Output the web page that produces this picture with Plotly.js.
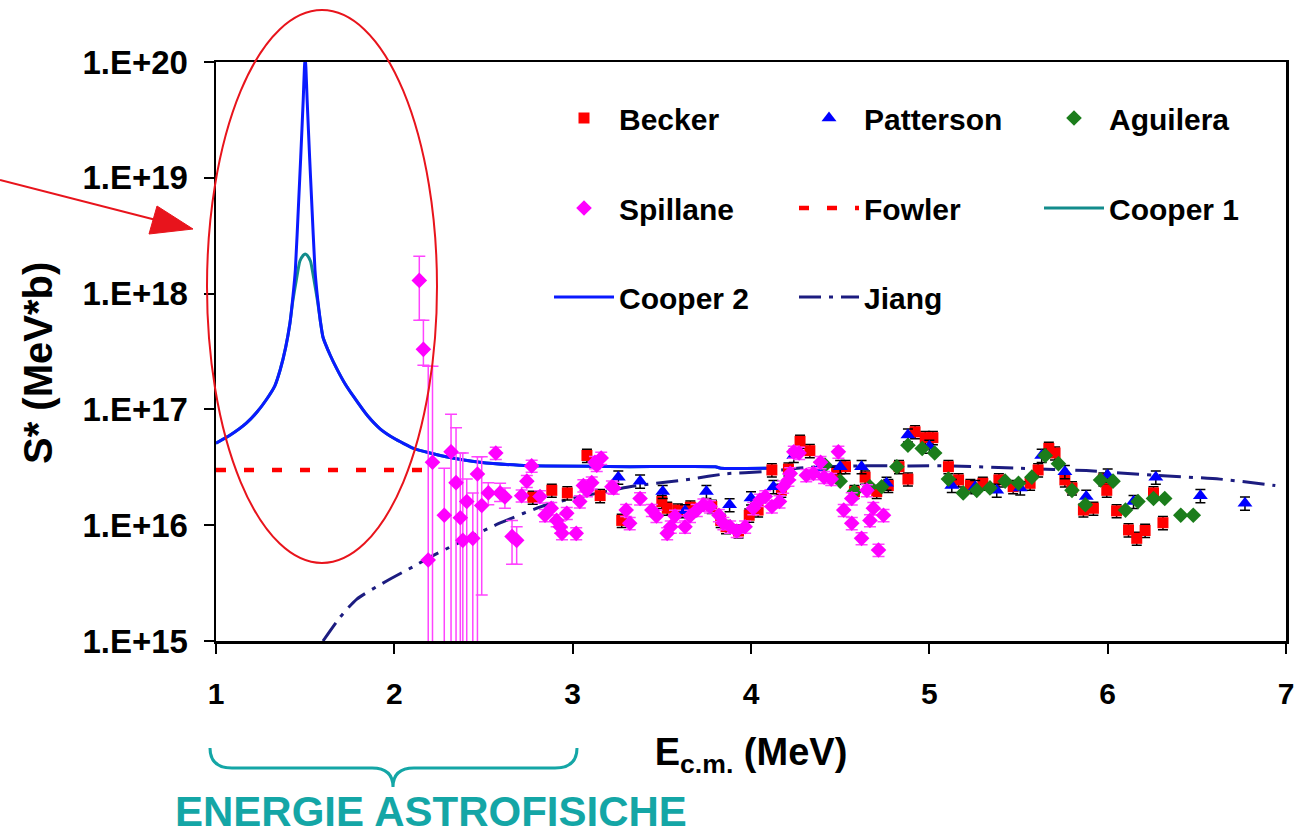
<!DOCTYPE html>
<html><head><meta charset="utf-8">
<script src="https://cdn.plot.ly/plotly-3.0.1.min.js"></script>
<style>html,body{margin:0;padding:0;background:#fff}#chart{width:1305px;height:838px}</style>
</head><body><div id="chart"></div>
<script>
// ---------------- DATA ----------------
const beckerX = [2.776,2.883,2.97,3.08,3.154,3.275,3.5,3.53,3.59,3.66,3.78,3.83,3.86,3.93,3.99,4.04,4.117,4.17,4.21,4.275,4.33,4.48,4.53,4.58,4.64,4.705,4.77,4.83,4.88,4.92,4.977,5.02,5.107,5.164,5.23,5.30,5.39,5.47,5.565,5.61,5.67,5.705,5.76,5.8,5.864,5.92,5.976,5.995,6.05,6.117,6.163,6.21,6.257,6.31];
const beckerY = [1.74e16,2.0e16,1.9e16,4.0e16,1.8e16,1.1e16,1.6e16,1.4e16,1.35e16,1.43e16,1.45e16,1.1e16,9.7e15,8.9e15,1.22e16,1.35e16,3.0e16,2.0e16,3.05e16,5.3e16,4.4e16,2.8e16,3.2e16,1.95e16,2.6e16,1.95e16,2.2e16,3.2e16,2.5e16,6.4e16,5.7e16,5.7e16,3.2e16,2.46e16,2.2e16,2.3e16,2.46e16,2.15e16,2.3e16,3.0e16,4.6e16,4.2e16,2.46e16,2.1e16,1.35e16,1.4e16,2.5e16,2.0e16,1.33e16,9.1e15,7.7e15,9.0e15,1.9e16,1.05e16];

const pattersonX = [3.256,3.378,3.505,3.63,3.75,3.88,4.0,4.126,4.24,4.38,4.5,4.62,4.76,4.88,5.0,5.126,5.257,5.378,5.51,5.63,5.76,5.88,6.0,6.145,6.27,6.52,6.77];
const pattersonY = [2.6e16,2.4e16,1.95e16,1.33e16,1.95e16,1.5e16,1.72e16,2.15e16,4.0e16,3.1e16,3.2e16,3.2e16,2.3e16,6.0e16,4.8e16,2.2e16,2.15e16,2.0e16,2.1e16,4.0e16,2.9e16,1.77e16,2.7e16,1.6e16,2.6e16,1.8e16,1.55e16];

const aguileraX = [4.415,4.5,4.58,4.667,4.733,4.818,4.88,4.96,5.03,5.107,5.19,5.266,5.34,5.425,5.5,5.575,5.65,5.724,5.8,5.875,5.96,6.03,6.10,6.17,6.257,6.32,6.41,6.48];
const aguileraY = [3.3e16,2.4e16,1.95e16,2.15e16,2.15e16,3.2e16,4.9e16,4.6e16,4.2e16,2.5e16,1.9e16,2.0e16,2.1e16,2.4e16,2.3e16,2.6e16,4.0e16,3.4e16,2.0e16,1.5e16,2.46e16,2.4e16,1.35e16,1.6e16,1.7e16,1.7e16,1.22e16,1.22e16];

// Spillane, low-energy points with individual error limits
const spillaneX  = [2.14,2.163,2.19,2.214,2.28,2.318,2.346,2.37,2.384,2.406,2.44,2.466,2.49,2.527,2.569,2.593,2.62,2.66,2.686];
const spillaneY  = [1.3e18,3.3e17,5.0e15,3.5e16,1.22e16,4.3e16,2.33e16,1.16e16,7.4e15,1.6e16,7.7e15,2.77e16,1.48e16,1.9e16,4.2e16,1.9e16,1.75e16,8.0e15,7.4e15];
const spillaneHi = [2.1e18,5.9e17,2.36e17,2.36e17,3.1e16,9.1e16,6.95e16,4.2e16,4.2e16,2.5e16,1.9e16,3.9e16,3.9e16,2.33e16,4.7e16,2.3e16,2.1e16,1.1e16,9.7e15];
const spillaneLo = [5.9e17,2.4e17,1e13,1e13,1e13,1e13,1e13,1e13,1e13,1e13,1e13,1e13,2.5e15,1.5e16,3.7e16,1.6e16,1.4e16,4.6e15,4.6e15];
// Spillane, remaining points
const spillane2X = [2.714,2.743,2.77,2.817,2.845,2.88,2.91,2.93,2.94,2.967,3.02,3.04,3.06,3.08,3.107,3.125,3.135,3.16,3.22,3.23,3.3,3.32,3.378,3.444,3.47,3.53,3.55,3.574,3.63,3.658,3.696,3.733,3.77,3.82,3.845,3.883,3.92,3.967,4.013,4.05,4.08,4.117,4.16,4.18,4.21,4.22,4.24,4.27,4.31,4.35,4.39,4.41,4.45,4.49,4.52,4.565,4.565,4.62,4.65,4.667,4.686,4.715,4.743];
const spillane2Y = [1.8e16,2.4e16,3.25e16,1.77e16,1.22e16,1.4e16,1.1e16,9.7e15,8.5e15,1.27e16,8.5e15,1.6e16,2.2e16,2.0e16,2.33e16,3.5e16,3.3e16,3.8e16,2.15e16,2.1e16,1.35e16,1.04e16,1.7e16,1.35e16,1.2e16,8.5e15,9.7e15,1.2e16,9.7e15,1.2e16,1.35e16,1.5e16,1.45e16,1.22e16,1.04e16,9.7e15,8.9e15,9.7e15,1.4e16,1.65e16,1.77e16,1.45e16,1.6e16,2.15e16,2.46e16,2.8e16,4.3e16,4.2e16,2.7e16,2.8e16,3.5e16,2.6e16,2.5e16,4.3e16,1.35e16,1.7e16,1.04e16,7.7e15,2.0e16,1.1e16,1.4e16,6.1e15,1.22e16];

const fowlerX = [1.0, 2.18];
const fowlerY = [3.0e16, 3.0e16];

const cooper2X = [1.0,1.08,1.17,1.23,1.28,1.33,1.36,1.39,1.415,1.43,1.445,1.464,1.475,1.489,1.496,1.5,1.504,1.511,1.525,1.536,1.555,1.57,1.585,1.6,1.64,1.677,1.72,1.77,1.85,1.92,2.0,2.107,2.2,2.29,2.48,2.7,2.85,3.32,3.8,3.83,4.09];
const cooper2Y = [5.1e16,6.0e16,7.6e16,9.5e16,1.2e17,1.6e17,2.2e17,3.4e17,5.6e17,9.0e17,1.6e18,6.5e18,1.5e19,4.7e19,9.0e19,1.1e20,9.0e19,4.7e19,1.5e19,6.5e18,1.6e18,9.0e17,5.8e17,4.2e17,2.95e17,2.25e17,1.7e17,1.3e17,8.8e16,6.8e16,5.6e16,4.6e16,4.2e16,3.9e16,3.5e16,3.3e16,3.25e16,3.2e16,3.2e16,3.1e16,3.1e16];

const cooper1X = [1.0,1.08,1.17,1.23,1.28,1.33,1.36,1.39,1.415,1.43,1.45,1.47,1.49,1.5,1.51,1.53,1.55,1.57,1.585,1.6,1.64,1.677,1.72,1.77,1.85,1.92,2.0,2.107,2.2,2.29,2.48,2.7,2.85,3.32,3.8,3.83,4.09];
const cooper1Y = [5.1e16,6.0e16,7.6e16,9.5e16,1.2e17,1.6e17,2.2e17,3.4e17,5.6e17,8.5e17,1.3e18,1.9e18,2.15e18,2.2e18,2.15e18,1.9e18,1.3e18,8.5e17,5.8e17,4.2e17,2.95e17,2.25e17,1.7e17,1.3e17,8.8e16,6.8e16,5.6e16,4.6e16,4.2e16,3.9e16,3.5e16,3.3e16,3.25e16,3.2e16,3.2e16,3.1e16,3.1e16];

const jiangX = [1.6,1.695,1.79,1.957,2.107,2.2,2.59,2.855,3.32,3.47,3.66,3.86,4.07,4.31,4.61,4.89,5.13,5.51,5.88,6.26,6.63,6.94];
const jiangY = [1.0e15,1.6e15,2.3e15,3.3e15,4.4e15,5.3e15,1.04e16,1.5e16,2.15e16,2.3e16,2.5e16,2.78e16,2.9e16,3.15e16,3.25e16,3.25e16,3.25e16,3.1e16,2.96e16,2.7e16,2.5e16,2.2e16];

const xTicks = [1,2,3,4,5,6,7];
const yTicks = [1e15,1e16,1e17,1e18,1e19,1e20];
const yTickText = ['1.E+15','1.E+16','1.E+17','1.E+18','1.E+19','1.E+20'];

// ---------------- STYLE / LAYOUT ----------------
const FONT = 'Liberation Sans, Arial, Helvetica, sans-serif';
const L = 216, R = 1286, T = 62, B = 641;
const px = v => (v - L) / (R - L);
const py = v => (B - v) / (B - T);
const TEAL = '#14a6a6';

const errBlack = {type:'percent', value:13, color:'#000', thickness:1.5, width:5};

const traces = [
  {name:'Fowler', x:fowlerX, y:fowlerY, mode:'lines', line:{color:'#ff0000', width:4.5, dash:'10px,18px'}, legend:'legend2', legendrank:2},
  {name:'Cooper 1', x:cooper1X, y:cooper1Y, mode:'lines', line:{color:'#138c8c', width:3, shape:'spline', smoothing:0.4}, legend:'legend2', legendrank:3},
  {name:'Cooper 2', x:cooper2X, y:cooper2Y, mode:'lines', line:{color:'#0a1aff', width:3, shape:'spline', smoothing:0.4}, legend:'legend3', legendrank:1},
  {name:'Jiang', x:jiangX, y:jiangY, mode:'lines', line:{color:'#1c1c80', width:3, dash:'22px,8px,4px,8px', shape:'spline', smoothing:0.6}, legend:'legend3', legendrank:2},
  {name:'Becker', x:beckerX, y:beckerY, mode:'markers', marker:{symbol:'square', size:11, color:'#ff0000'}, error_y:errBlack, legend:'legend', legendrank:1},
  {name:'Patterson', x:pattersonX, y:pattersonY, mode:'markers', marker:{symbol:'triangle-up', size:13, color:'#0000ff'}, error_y:errBlack, legend:'legend', legendrank:2},
  {name:'Aguilera', x:aguileraX, y:aguileraY, mode:'markers', marker:{symbol:'diamond', size:12, color:'#1b7d1b'}, error_y:{type:'percent', value:5, color:'#333', thickness:1, width:4}, legend:'legend', legendrank:3},
  {name:'Spillane', x:spillaneX, y:spillaneY, mode:'markers', marker:{symbol:'diamond', size:12, color:'#ff00ff'}, legendgroup:'sp',
    error_y:{type:'data', symmetric:false, array:spillaneHi.map((h,i)=>h-spillaneY[i]), arrayminus:spillaneLo.map((l,i)=>spillaneY[i]-l), color:'#ff44ff', thickness:1.5, width:6}, legend:'legend2', legendrank:1},
  {name:'Spillane', x:spillane2X, y:spillane2Y, mode:'markers', marker:{symbol:'diamond', size:12, color:'#ff00ff'}, legendgroup:'sp', showlegend:false,
    error_y:{type:'percent', value:12, color:'#ff44ff', thickness:1.5, width:6}, legend:'legend2'}
];

const legBase = {orientation:'h', xanchor:'left', yanchor:'middle', x:px(549), entrywidth:170, entrywidthmode:'pixels', itemwidth:60,
  bgcolor:'rgba(0,0,0,0)', borderwidth:0, font:{family:FONT, size:30, color:'#000', weight:'bold'}};

const shapes = [
  // red ellipse
  {type:'circle', xref:'paper', yref:'paper', x0:px(207), x1:px(437), y0:py(563), y1:py(10), line:{color:'#e8141c', width:2}},
  // red arrow shaft
  {type:'line', xref:'paper', yref:'paper', x0:px(0), y0:py(180), x1:px(160), y1:py(221), line:{color:'#e8141c', width:2}},
  // red arrow head
  {type:'path', xref:'paper', yref:'paper', fillcolor:'#e8141c', line:{color:'#e8141c', width:1},
    path:`M ${px(193)} ${py(229)} L ${px(149)} ${py(234)} L ${px(157)} ${py(206)} Z`},
  // teal brace
  {type:'path', xref:'paper', yref:'paper', line:{color:TEAL, width:3},
    path:`M ${px(210)} ${py(748)} Q ${px(210)} ${py(768)} ${px(232)} ${py(768)} L ${px(372)} ${py(768)} Q ${px(393)} ${py(768)} ${px(393)} ${py(787)} Q ${px(393)} ${py(768)} ${px(414)} ${py(768)} L ${px(555)} ${py(768)} Q ${px(577)} ${py(768)} ${px(577)} ${py(748)}`}
];

const layout = {
  width:1305, height:838,
  margin:{l:L, r:1305-R, t:T, b:838-B},
  paper_bgcolor:'#fff', plot_bgcolor:'#fff',
  font:{family:FONT, color:'#000'},
  showlegend:true,
  xaxis:{range:[1,7], tickvals:xTicks, showgrid:false, zeroline:false, showline:true, linecolor:'#000', linewidth:2.5, mirror:true,
    ticks:'outside', ticklen:10, tickwidth:2, tickcolor:'#000', ticklabelstandoff:14,
    tickfont:{family:FONT, size:30, color:'#000', weight:'bold'},
    title:{text:'E<sub>c.m.</sub> (MeV)', font:{family:FONT, size:38, color:'#000', weight:'bold'}, standoff:30}},
  yaxis:{type:'log', range:[15,20], tickvals:yTicks, ticktext:yTickText, showgrid:false, zeroline:false, showline:true, linecolor:'#000', linewidth:2.5, mirror:true,
    ticks:'outside', ticklen:10, tickwidth:2, tickcolor:'#000', ticklabelstandoff:9,
    tickfont:{family:FONT, size:33, color:'#000', weight:'bold'}},
  legend: Object.assign({}, legBase, {y:py(118)}),
  legend2: Object.assign({}, legBase, {y:py(208)}),
  legend3: Object.assign({}, legBase, {y:py(297)}),
  shapes: shapes,
  annotations:[
    {text:'S* (MeV*b)', textangle:-90, xref:'paper', yref:'paper', x:px(38), y:py(363), xanchor:'center', yanchor:'middle', showarrow:false,
     font:{family:FONT, size:40, color:'#000', weight:'bold'}},
    {text:'ENERGIE ASTROFISICHE', xref:'paper', yref:'paper', x:px(431), y:py(837), xanchor:'center', yanchor:'bottom', showarrow:false,
     font:{family:FONT, size:42, color:TEAL, weight:'bold'}}
  ]
};

Plotly.newPlot('chart', traces, layout, {displayModeBar:false, staticPlot:true});
</script>
</body></html>
